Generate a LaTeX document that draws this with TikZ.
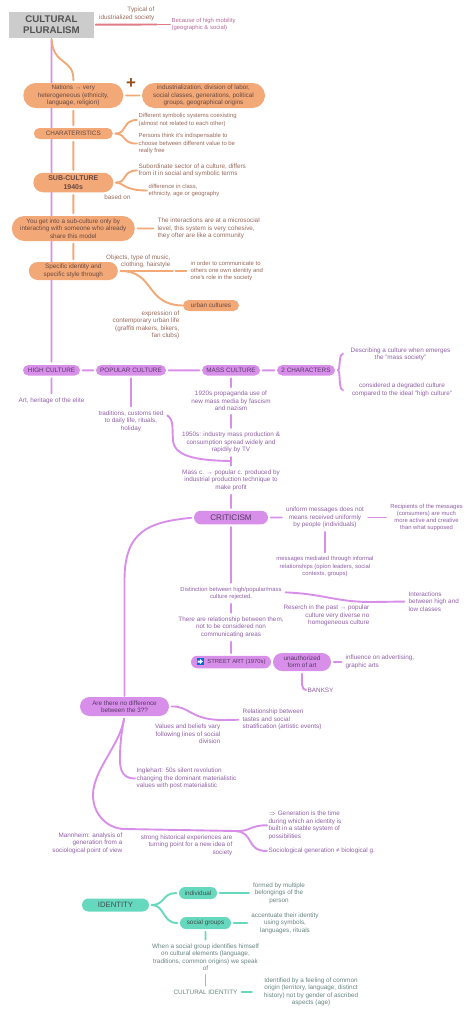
\documentclass[tikz,border=0pt]{standalone}
\usepackage{fontspec}
\setmainfont{Liberation Sans}
\usetikzlibrary{shapes.misc,backgrounds}
\definecolor{orangeC}{HTML}{F2A877}
\definecolor{purpleC}{HTML}{D88FEA}
\definecolor{tealC}{HTML}{66D8BE}
\definecolor{roseC}{HTML}{E07A86}
\definecolor{orangeT}{HTML}{96695C}
\definecolor{purpleT}{HTML}{8E5FA6}
\definecolor{tealT}{HTML}{66837F}
\begin{document}
\begin{tikzpicture}[x=1pt, y=-1pt, line join=round, line cap=round]
	\tikzset{
		txt/.style={inner sep=1.5pt, align=center, font=\fontsize{6.35}{7.4}\selectfont},
		small/.style={font=\fontsize{5.9}{7.2}\selectfont},
		otxt/.style={txt, text=orangeT},
		ptxt/.style={txt, text=purpleT},
		ttxt/.style={txt, text=tealT},
		pill/.style={rounded rectangle, inner sep=0pt, align=center, font=\fontsize{6.35}{7.4}\selectfont},
		opill/.style={pill, fill=orangeC, text=orangeT!70!black},
		ppill/.style={pill, fill=purpleC, text=purpleT!60!black},
		tpill/.style={pill, fill=tealC, text=tealT!60!black},
		oline/.style={draw=orangeC, line width=1.9pt, shorten <=2.5pt, shorten >=2.5pt},
		pline/.style={draw=purpleC, line width=1.9pt, shorten <=2.5pt, shorten >=2.5pt},
		tline/.style={draw=tealC, line width=1.9pt, shorten <=2.5pt, shorten >=2.5pt}
	}
	\useasboundingbox (0,0) rectangle (474,1017);

	\node[fill=black!20, minimum width=85pt, minimum height=26pt, inner sep=0pt, align=center, text=black!68, font=\fontsize{9.7}{11.4}\selectfont\bfseries] (title) at (51.5,24.7) {CULTURAL\\PLURALISM};
	\node[txt, anchor=east, align=right, text=orangeT] (typical) at (156,14) {Typical of\\idustrialized society};
	\node[txt, small, anchor=west, align=left, text=purpleT!55!roseC] (mobility) at (170,24.5) {Because of high mobility\\(geographic \& social)};
	\coordinate (typicalend) at (157,24.5);
	\draw[draw=roseC, line width=1.9pt, shorten <=1.5pt] (title.east) -- (typicalend);
	\draw[draw=roseC, line width=1.9pt, shorten <=1.5pt] (typicalend) -- (mobility.west);

	\node[opill, minimum width=100pt, minimum height=25pt] (nations) at (73.3,95.5) {Nations → very\\heterogeneous (ethnicity,\\language, religion)};
	\node[opill, minimum width=123pt, minimum height=25pt] (industry) at (203.5,95.5) {industrialization, division of labor,\\social classes, generations, political\\groups, geographical origins};
	\node[inner sep=0pt, text=orangeT!45!orange!70!black, font=\fontsize{17}{17}\selectfont\bfseries] (plus) at (131,84) {+};
	\node[opill, minimum width=79pt, minimum height=11pt] (charat) at (73.3,133.5) {CHARATERISTICS};
	\node[opill, minimum width=80pt, minimum height=19.5pt, font=\fontsize{7}{8.6}\selectfont\bfseries] (sub) at (73.3,182.5) {SUB-CULTURE\\1940s};
	\node[opill, minimum width=123pt, minimum height=25pt] (getinto) at (73.3,228.5) {You get into a sub-culture only by\\interacting with someone who already\\share this model};
	\node[opill, minimum width=89pt, minimum height=18pt] (specific) at (73.3,271) {Specific identity and\\specific style through};
	\node[opill, minimum width=56pt, minimum height=11pt] (urban) at (211,305.5) {urban cultures};

	\node[otxt, small, anchor=west, align=left] (symbolic) at (137,120) {Different symbolic systems coexisting\\(almost not related to each other)};
	\node[otxt, small, anchor=west, align=left] (persons) at (137,143.5) {Persons think it's indispensable to\\choose between different value to be\\really free};
	\node[otxt, anchor=west, align=left] (subordinate) at (137,170.5) {Subordinate sector of a culture, differs\\from it in social and symbolic terms};
	\node[otxt, small, anchor=west, align=left] (difference) at (147,190.5) {difference in class,\\ethnicity, age or geography};
	\node[otxt] (basedon) at (117.5,197) {based on};
	\node[otxt, anchor=west, align=left] (microsocial) at (156,228.5) {The interactions are at a microsocial\\level, this system is very cohesive,\\they ofter are like a community};
	\node[otxt, anchor=east, align=right] (objects) at (172,261.5) {Objects, type of music,\\clothing, hairstyle};
	\node[otxt, small, anchor=west, align=left] (inorder) at (189,271) {in order to communicate to\\others one own identity and\\one's role in the society};
	\node[otxt, anchor=east, align=right] (expression) at (181,325) {expression of\\contemporary urban life\\(graffiti makers, bikers,\\fan clubs)};
	\coordinate (objectsend) at (173,271);

	\foreach \a/\b in {nations/industry, nations/charat, charat/sub, sub/getinto, getinto/specific, getinto/microsocial}{
		\draw[oline] (\a) -- (\b);
	}
	\draw[oline, shorten >=0pt] (specific.east) -- (objectsend);
	\draw[oline] (objectsend) -- (inorder.west);
	\draw[oline, shorten >=0pt] (charat.east) .. controls (127,134) and (122,120) .. (symbolic.west);
	\draw[oline, shorten >=0pt] (charat.east) .. controls (127,134) and (122,144) .. (persons.west);
	\draw[oline, shorten >=0pt] (sub.east) .. controls (127,183) and (122,170.5) .. (subordinate.west);
	\draw[oline, shorten >=0pt] (sub.east) .. controls (124,183) and (124,190.5) .. (difference.west);
	\draw[oline, shorten >=0pt] (specific.east) .. controls (155,271) and (145,305) .. (urban.west);
	\draw[oline, shorten <=1pt] (title.south) .. controls (53,66) and (74,58) .. (nations.north);

	\node[ppill, minimum width=57pt, minimum height=10.5pt] (high) at (51.5,370.3) {HIGH CULTURE};
	\node[ppill, minimum width=70pt, minimum height=10.5pt] (popular) at (131,370.3) {POPULAR CULTURE};
	\node[ppill, minimum width=58pt, minimum height=10.5pt] (mass) at (231,370.3) {MASS CULTURE};
	\node[ppill, minimum width=58pt, minimum height=10.5pt] (twochar) at (306,370.3) {2 CHARACTERS};
	\node[ptxt] (describing) at (400.5,354.5) {Describing a culture when emerges\\the "mass society"};
	\node[ptxt] (degraded) at (402,390) {considered a degraded culture\\compared to the ideal "high culture"};
	\node[ptxt] (heritage) at (51.5,400.5) {Art, heritage of the elite};
	\node[ptxt] (traditions) at (131,421) {traditions, customs tied\\to daily life, rituals,\\holiday};
	\node[ptxt] (propaganda) at (231,401) {1920s propaganda use of\\new mass media by fascism\\and nazism};
	\node[ptxt] (industrymass) at (231,442.5) {1950s: industry mass production \&\\consumption spread widely and\\rapidily by TV};
	\node[ptxt] (massc) at (231,480.3) {Mass c. → popular c. produced by\\industrial production technique to\\make profit};
	\node[ppill, minimum width=74pt, minimum height=13.5pt, font=\fontsize{8.1}{9}\selectfont] (criticism) at (231,517.5) {CRITICISM};
	\node[ptxt] (uniform) at (325,517.5) {uniform messages does not\\means received uniformly\\by people (individuals)};
	\node[ptxt, small] (recipients) at (426.5,517.5) {Recipients of the messages\\(consumers) are much\\more active and creative\\than what supposed};
	\node[ptxt, small] (mediated) at (325,566.5) {messages mediated through informal\\relationships (opion leaders, social\\contexts, groups)};
	\node[ptxt, small] (distinction) at (231,593.3) {Distinction between high/popular/mass\\culture rejected.};
	\node[ptxt] (relation) at (231,627.3) {There are relationship between them,\\not to be considered non\\communicating areas};
	\node[ptxt, anchor=east, align=right] (research) at (371,615.5) {Reserch in the past → popular\\culture very diverse no\\homogeneous culture};
	\node[ptxt, anchor=west, align=left] (interactions) at (407,601.5) {Interactions\\between high and\\low classes};
	\node[ppill, minimum width=80pt, minimum height=12.5pt, font=\fontsize{5.9}{7.2}\selectfont] (street) at (231,662) {\hspace{11pt}STREET ART (1970s)};
	\node[inner sep=0pt, fill=blue!45!cyan!80!black, minimum size=7pt] (streeticon) at (200,661.5) {};
	\fill[white] (197.5,660.5) -- (200,660.5) -- (200,659) -- (202.8,661.5) -- (200,664) -- (200,662.5) -- (197.5,662.5) -- cycle;
	\node[ppill, minimum width=58pt, minimum height=18pt] (unauth) at (302,662) {unauthorized\\form of art};
	\node[ptxt, anchor=west, align=left] (influence) at (344,662) {influence on advertising,\\graphic arts};
	\node[ptxt, anchor=west] (banksy) at (306,690) {BANKSY};
	\node[ppill, minimum width=89pt, minimum height=19pt] (are) at (124.5,706.5) {Are there no difference\\between the 3??};
	\node[ptxt, anchor=west, align=left] (tastes) at (241,719.7) {Relationship between\\tastes and social\\stratification (artistic events)};
	\node[ptxt, anchor=east, align=right] (values) at (222,733.8) {Values and beliefs vary\\following lines of social\\division};
	\node[ptxt, anchor=west, align=left] (inglehart) at (135,778.5) {Inglehart: 50s silent revolution\\changing the dominant materialistic\\values with post materialistic};
	\node[ptxt, anchor=east, align=right] (mannheim) at (124,843) {Mannheim: analysis of\\generation from a\\sociological point of view};
	\node[ptxt, anchor=east, align=right] (strong) at (234,845.3) {strong historical experiences are\\turning point for a new idea of\\society};
	\node[ptxt, anchor=west, align=left] (generation) at (267,825.3) {$\Rightarrow$ Generation is the time\\during which an identity is\\built in a stable system of\\possibilities};
	\node[ptxt, anchor=west] (sociological) at (267,851) {Sociological generation ≠ biological g.};
	\coordinate (tick) at (231,461);
	\coordinate (researchend) at (372,602);
	\coordinate (valuesend) at (223,720);
	\coordinate (strongend) at (235,831);

	\begin{scope}[on background layer]
		\draw[pline] (title) -- (high);
	\end{scope}
	\foreach \a/\b in {high/popular, popular/mass, mass/twochar, criticism/uniform, uniform/recipients, unauth/influence, high/heritage, popular/traditions, uniform/mediated, mass/propaganda, propaganda/industrymass, industrymass/massc, massc/criticism, criticism/distinction, distinction/relation, relation/street}{
		\draw[pline] (\a) -- (\b);
	}
	\draw[pline, shorten >=0pt] (traditions.north east) ++(0,5) .. controls (174,420) and (172,428) .. (173,440) .. controls (174,456) and (195,460.5) .. (tick);
	\draw[pline, shorten >=1pt] (criticism.west) .. controls (150,522) and (124.5,530) .. (124.5,580) -- (are.north);
	\draw[pline, shorten >=0pt] (distinction.east) ++(0,-1) .. controls (325,594) and (335,602) .. (researchend);
	\draw[pline, shorten <=0pt] (researchend) -- (interactions.west);
	\draw[pline, shorten >=0pt] (are.east) .. controls (190,706) and (190,720) .. (valuesend);
	\draw[pline, shorten <=0pt] (valuesend) -- (tastes.west);
	\draw[pline, shorten >=0pt] (are.south) .. controls (121,735) and (120,745) .. (120,760) .. controls (120,772) and (124,778.5) .. (inglehart.west);
	\draw[pline, shorten >=0pt] (are.south) .. controls (120,745) and (93,770) .. (93,795) .. controls (93,815) and (108,829) .. (125,829) -- (strongend);
	\draw[pline, shorten >=0pt, shorten <=0pt] (strongend) .. controls (250,832) and (250,825) .. (generation.west);
	\draw[pline, shorten >=0pt, shorten <=0pt] (strongend) .. controls (255,832) and (245,851) .. (sociological.west);
	\draw[pline, shorten >=0pt] (twochar.east) .. controls (341,370) and (338,354) .. (343,354);
	\draw[pline, shorten >=0pt] (twochar.east) .. controls (341,370) and (338,390) .. (343,390);
	\draw[pline, shorten >=0pt] (unauth.south) .. controls (302,682) and (301,690) .. (banksy.west);

	\node[tpill, minimum width=67pt, minimum height=13pt, font=\fontsize{7.7}{9}\selectfont] (identity) at (115.5,905) {IDENTITY};
	\node[tpill, minimum width=38pt, minimum height=12pt] (individual) at (198,893) {individual};
	\node[tpill, minimum width=51pt, minimum height=12pt] (social) at (205.5,923) {social groups};
	\node[ttxt] (formed) at (279,893) {formed by multiple\\belongings of the\\person};
	\node[ttxt] (accentuate) at (285,923) {accentuate their identity\\using symbols,\\languages, rituals};
	\node[ttxt] (when) at (205.5,957.3) {When a social group identifies himself\\on cultural elements (language,\\traditions, common origins) we speak\\of};
	\node[ttxt] (cultural) at (205.5,992) {CULTURAL IDENTITY};
	\node[ttxt] (identified) at (311,992) {Identified by a feeling of common\\origin (territory, language, distinct\\history) not by gender of ascribed\\aspects (age)};
	\draw[tline] (identity.east) .. controls (165,905) and (162,893) .. (individual.west);
	\draw[tline] (identity.east) .. controls (165,905) and (162,923) .. (social.west);
	\foreach \a/\b in {individual/formed, social/accentuate, social/when, when/cultural}{
		\draw[tline] (\a) -- (\b);
	}
	\coordinate (culturalend) at (252,992);
	\draw[tline, shorten >=0pt] (cultural) -- (culturalend);
\end{tikzpicture}
\end{document}
